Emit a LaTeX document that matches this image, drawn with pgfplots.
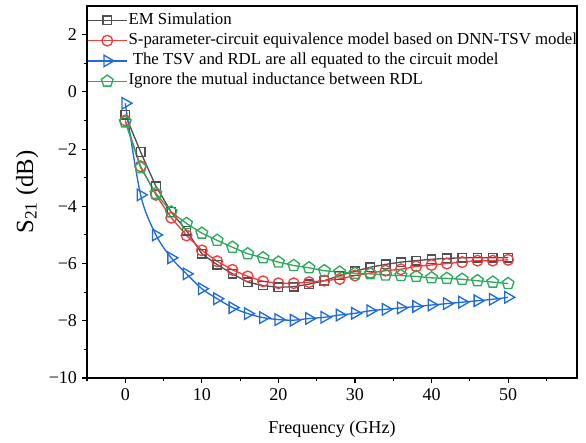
\documentclass[border=0pt]{standalone}
\usepackage{fontspec}
\setmainfont{Liberation Serif}
\usepackage{pgfplots}
\pgfplotsset{compat=1.18}
\definecolor{cEM}{HTML}{505050}
\definecolor{cRed}{HTML}{F53B3B}
\definecolor{cBlue}{HTML}{1E6BE0}
\definecolor{cGreen}{HTML}{2EAA5C}
\begin{document}
\begin{tikzpicture}
\begin{axis}[
  scale only axis, width=367.5pt, height=279pt,
  xmin=-5, xmax=59, ymin=-10, ymax=3,
  xtick={0,10,...,50}, minor xtick={-5,5,15,...,55},
  ytick={-10,-8,...,2}, yticklabels={−10,−8,−6,−4,−2,0,2},
  minor ytick={-9,-7,...,1},
  tick align=outside, xtick pos=bottom, ytick pos=left,
  major tick length=4pt, minor tick length=2.5pt,
  tick style={black, line width=0.8pt},
  axis line style={line width=0.9pt},
  /pgf/number format/assume math mode=true,
  tick label style={font=\fontsize{13.5}{15}\selectfont},
  xlabel={Frequency (GHz)}, xlabel style={font=\fontsize{13.6}{15}\selectfont, yshift=-9pt},
  ylabel={S\textsubscript{21} (dB)}, ylabel style={font=\fontsize{18.5}{20}\selectfont, yshift=1pt},
  legend style={at={(0,1)}, anchor=north west, draw=none, fill=none,
    font=\fontsize{12.6}{15}\selectfont, row sep=0pt, inner sep=0pt, xshift=0pt, yshift=-3pt,
    nodes={inner sep=1pt, text height=9.4pt, text depth=3.8pt}},
  legend image code/.code={\draw[mark repeat=2,mark phase=2,#1] plot coordinates {(0pt,0pt)(14.5pt,0pt)(29pt,0pt)};},
  legend cell align=left,
  every axis plot/.append style={line width=1pt},
]
\addplot[cEM, mark=square, mark size=3.2pt] coordinates {
(0,-0.8)(2,-2.1)(4,-3.3)(6,-4.2)(8,-4.85)(10,-5.66)(12,-6.04)(14,-6.36)(16,-6.65)(18,-6.77)(20,-6.83)(22,-6.81)(24,-6.72)(26,-6.6)(28,-6.42)(30,-6.27)(32,-6.13)(34,-6.03)(36,-5.95)(38,-5.9)(40,-5.85)(42,-5.82)(44,-5.8)(46,-5.8)(48,-5.8)(50,-5.8)};
\addlegendentry{EM Simulation}
\addplot[cRed, mark=o, mark size=4pt] coordinates {
(0,-1.0)(2,-2.6)(4,-3.6)(6,-4.4)(8,-5.02)(10,-5.54)(12,-5.92)(14,-6.22)(16,-6.45)(18,-6.62)(20,-6.69)(22,-6.69)(24,-6.65)(26,-6.6)(28,-6.54)(30,-6.42)(32,-6.33)(34,-6.25)(36,-6.2)(38,-6.1)(40,-6.05)(42,-6.0)(44,-5.95)(46,-5.9)(48,-5.9)(50,-5.87)};
\addlegendentry{S-parameter-circuit equivalence model based on DNN-TSV model}
\addplot[cBlue, smooth, mark=triangle, mark size=5pt, mark options={rotate=-90}] coordinates {
(0,-0.4)(2,-3.6)(4,-5.0)(6,-5.8)(8,-6.36)(10,-6.88)(12,-7.23)(14,-7.54)(16,-7.75)(18,-7.89)(20,-7.96)(22,-7.98)(24,-7.92)(26,-7.88)(28,-7.8)(30,-7.74)(32,-7.65)(34,-7.6)(36,-7.55)(38,-7.5)(40,-7.45)(42,-7.4)(44,-7.35)(46,-7.3)(48,-7.25)(50,-7.18)};
\addlegendentry{\ The TSV and RDL are all equated to the circuit model}
\addplot[cGreen, mark=pentagon, mark size=4.6pt] coordinates {
(0,-1.05)(2,-2.65)(4,-3.55)(6,-4.2)(8,-4.6)(10,-4.94)(12,-5.19)(14,-5.43)(16,-5.66)(18,-5.8)(20,-5.95)(22,-6.07)(24,-6.15)(26,-6.25)(28,-6.3)(30,-6.34)(32,-6.36)(34,-6.4)(36,-6.42)(38,-6.45)(40,-6.5)(42,-6.52)(44,-6.55)(46,-6.6)(48,-6.65)(50,-6.7)};
\addlegendentry{Ignore the mutual inductance between RDL}
\end{axis}
\path (current axis.south west) ++(-65.25pt,-48pt) coordinate (bbA);
\path (current axis.north east) ++(6.75pt,4.5pt) coordinate (bbB);
\path (bbA) rectangle (bbB);
\end{tikzpicture}
\end{document}
